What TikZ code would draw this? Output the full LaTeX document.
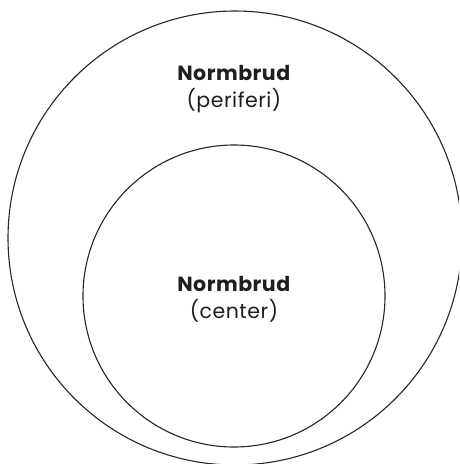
\documentclass[tikz,border=0pt]{standalone}
\usepackage{fontspec}
\setmainfont{Poppins}[LetterSpace=2.5]
\begin{document}
\begin{tikzpicture}[x=1pt,y=-1pt,
  ring/.style={draw=black!85, line width=1.1pt},
  lbl/.style={align=center, font=\fontsize{20.5}{27}\selectfont, text=black!88, inner sep=0pt}]
\useasboundingbox (0,0) rectangle (459,464);
\clip (0,0) rectangle (459,464);
\node[ring, circle, minimum size=454pt, inner sep=0pt] (outer) at (235,238) {};
\node[ring, circle, minimum size=302pt, inner sep=0pt] (inner) at (234,296) {};
\node[lbl] (outerlbl) at (234,89) {\textbf{Normbrud}\\(periferi)};
\node[lbl] (innerlbl) at (234,299) {\textbf{Normbrud}\\(center)};
\end{tikzpicture}
\end{document}
